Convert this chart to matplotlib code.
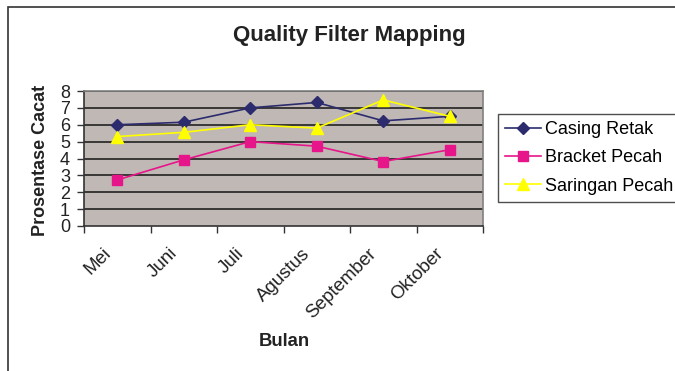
import matplotlib
matplotlib.use("Agg")
import matplotlib.pyplot as plt
from matplotlib.patches import Rectangle
from matplotlib.transforms import ScaledTranslation
import numpy as np

months = ["Mei", "Juni", "Juli", "Agustus", "September", "Oktober"]
casing_retak = [6.0, 6.15, 7.0, 7.32, 6.23, 6.5]
bracket_pecah = [2.73, 3.92, 5.0, 4.73, 3.82, 4.52]
saringan_pecah = [5.3, 5.55, 6.0, 5.8, 7.47, 6.5]
yticks = [0, 1, 2, 3, 4, 5, 6, 7, 8]

plt.rcParams['font.family'] = ['Liberation Sans', 'DejaVu Sans']

fig = plt.figure(figsize=(6.75, 3.71), dpi=100)
fig.patches.append(Rectangle((8/675, -0.1), 1.2, (371-7)/371 + 0.1, transform=fig.transFigure,
                             fill=False, edgecolor='#333333', linewidth=1.2))

ax = fig.add_axes([84/675, (371-226)/371, (483-84)/675, (226-91)/371])
ax.set_facecolor('#C0B8B4')
x = np.arange(len(months))
ax.plot(x, casing_retak, color='#2B2B6E', marker='D', markersize=6, linewidth=1.2,
        label='Casing Retak', zorder=5)
ax.plot(x, bracket_pecah, color='#E6158A', marker='s', markersize=7, linewidth=1.2,
        label='Bracket Pecah', zorder=5)
ax.plot(x, saringan_pecah, color='#FFFF00', marker='^', markersize=9, linewidth=1.2,
        label='Saringan Pecah', zorder=5)

ax.set_xlim(-0.5, len(months) - 0.5)
ax.set_ylim(0, 8)
ax.set_yticks(yticks)
ax.set_yticklabels([str(v) for v in yticks], fontsize=13, color='#222222')
for v in yticks[1:]:
    ax.axhline(v, color='#222222', linewidth=1.2, zorder=1)

ax.set_xticks(np.arange(-0.5, len(months), 1.0))
ax.set_xticklabels([])
shift = ScaledTranslation(-15/100, -19/100, fig.dpi_scale_trans)
for xi, m in zip(x, months):
    ax.text(xi, 0, m, transform=ax.get_xaxis_transform() + shift,
            rotation=45, ha='right', va='top', rotation_mode='anchor',
            fontsize=13.5, color='#222222', clip_on=False)
ax.tick_params(axis='x', which='major', length=5, width=1, color='#333333')
ax.tick_params(axis='y', length=5, width=1, pad=5, color='#333333')

for s in ['top', 'right']:
    ax.spines[s].set_color('#808080')
    ax.spines[s].set_linewidth(1.2)
for s in ['left', 'bottom']:
    ax.spines[s].set_color('#333333')
    ax.spines[s].set_linewidth(1.2)

fig.text(349/675, 1 - 35/371, 'Quality Filter Mapping', ha='center', va='center',
         fontsize=16, fontweight='bold', color='#222222')
fig.text(41/675, 1 - 160/371, 'Prosentase Cacat', ha='center', va='center',
         rotation=90, fontsize=13, fontweight='bold', color='#222222')
fig.text(284/675, 1 - 342/371, 'Bulan', ha='center', va='center',
         fontsize=13.3, fontweight='bold', color='#222222')

leg = fig.legend(loc='upper left', bbox_to_anchor=(498/675, 1 - 114/371),
                 frameon=True, fancybox=False, fontsize=13, handlelength=2.0,
                 handletextpad=0.2, borderpad=0.4, labelspacing=0.62,
                 borderaxespad=0)
leg.get_frame().set_edgecolor('#222222')
leg.get_frame().set_linewidth(1.0)

fig.savefig('out.png', dpi=100)
